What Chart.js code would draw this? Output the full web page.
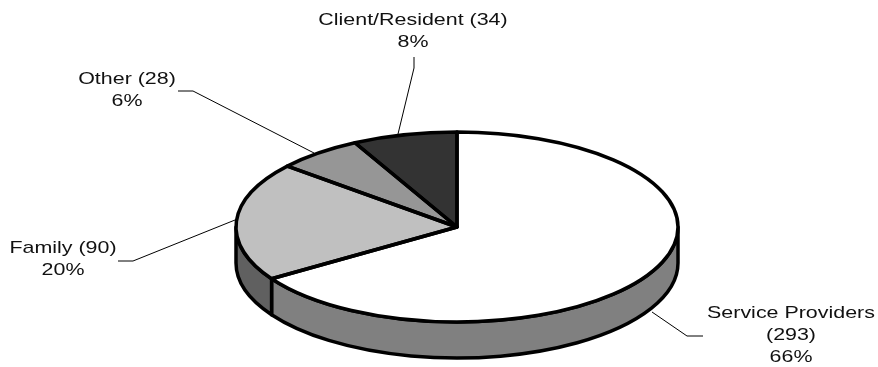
<!DOCTYPE html>
<html>
<head>
<meta charset="utf-8">
<style>html,body{margin:0;padding:0;background:#fff}canvas{display:block}</style>
<script src="https://cdn.jsdelivr.net/npm/chart.js@4/dist/chart.umd.min.js"></script>
</head>
<body>
<canvas id="c" width="878" height="367"></canvas>
<script>
const categories = ['Service Providers', 'Family', 'Other', 'Client/Resident'];
const counts = [293, 90, 28, 34];
const percentLabels = ['66%', '20%', '6%', '8%'];
const topColors = ['#ffffff', '#c0c0c0', '#969696', '#333333'];
const wallColors = ['#808080', '#606060', '#4b4b4b', '#1a1a1a'];

const labelLines = [
  ['Service Providers', '(' + counts[0] + ')', percentLabels[0]],
  [categories[1] + ' (' + counts[1] + ')', percentLabels[1]],
  [categories[2] + ' (' + counts[2] + ')', percentLabels[2]],
  [categories[3] + ' (' + counts[3] + ')', percentLabels[3]]
];
const labelAnchors = [[791, 313], [63, 248.5], [127, 79.5], [413, 20]];
const leaders = [
  [[703, 336], [687, 336], [652, 312]],
  [[118, 261], [133, 261], [235, 220]],
  [[178, 91], [193, 91], [314, 153]],
  [[414, 57], [414, 68], [398, 134]]
];
const pie = {cx: 457, cy: 227, rx: 221, ry: 95, depth: 36};
const LINE_H = 22.3;
const TEXT_STRETCH = 1.26;
const OUTLINE = 3.5;

const pie3d = {
  id: 'pie3d',
  beforeDatasetsDraw(chart) {
    const ctx = chart.ctx, arcs = chart.getDatasetMeta(0).data;
    // side wall: the visible lower half of each slice's rim
    arcs.forEach((arc, i) => {
      const p = arc.getProps(['startAngle', 'endAngle']);
      const a = Math.max(p.startAngle, 0), b = Math.min(p.endAngle, Math.PI);
      if (b <= a) return;
      ctx.beginPath();
      ctx.ellipse(pie.cx, pie.cy, pie.rx, pie.ry, 0, a, b);
      ctx.ellipse(pie.cx, pie.cy + pie.depth, pie.rx, pie.ry, 0, b, a, true);
      ctx.closePath();
      ctx.fillStyle = wallColors[i];
      ctx.fill();
      ctx.lineWidth = OUTLINE;
      ctx.lineJoin = 'round';
      ctx.strokeStyle = '#000';
      ctx.stroke();
    });
    const p0 = arcs[0].getProps(['x', 'y', 'outerRadius']);
    ctx.save();
    ctx.translate(pie.cx, pie.cy);
    ctx.scale(pie.rx / p0.outerRadius, pie.ry / p0.outerRadius);
    ctx.translate(-p0.x, -p0.y);
  },
  afterDatasetsDraw(chart) {
    const ctx = chart.ctx, arcs = chart.getDatasetMeta(0).data;
    ctx.restore();
    // uniform-width outlines of the top face
    arcs.forEach(arc => {
      const p = arc.getProps(['startAngle', 'endAngle']);
      ctx.beginPath();
      ctx.moveTo(pie.cx, pie.cy);
      ctx.ellipse(pie.cx, pie.cy, pie.rx, pie.ry, 0, p.startAngle, p.endAngle);
      ctx.closePath();
      ctx.lineWidth = OUTLINE;
      ctx.lineJoin = 'round';
      ctx.strokeStyle = '#000';
      ctx.stroke();
    });
    // leader lines
    ctx.lineWidth = 1;
    ctx.strokeStyle = '#000';
    leaders.forEach(pts => {
      ctx.beginPath();
      pts.forEach((q, i) => i ? ctx.lineTo(q[0], q[1]) : ctx.moveTo(q[0], q[1]));
      ctx.stroke();
    });
    // labels, stretched horizontally as in the reference
    ctx.fillStyle = '#111';
    ctx.font = '17px "Liberation Sans", Arial, sans-serif';
    ctx.textAlign = 'center';
    ctx.textBaseline = 'middle';
    labelLines.forEach((lines, i) => {
      lines.forEach((t, j) => {
        ctx.save();
        ctx.translate(labelAnchors[i][0], labelAnchors[i][1] + j * LINE_H);
        ctx.scale(TEXT_STRETCH, 1);
        ctx.fillText(t, 0, 0);
        ctx.restore();
      });
    });
  }
};

new Chart(document.getElementById('c'), {
  type: 'pie',
  data: {
    labels: categories,
    datasets: [{data: counts, backgroundColor: topColors, borderWidth: 0, clip: false}]
  },
  options: {
    responsive: false,
    animation: false,
    layout: {padding: 0},
    plugins: {legend: {display: false}, tooltip: {enabled: false}, title: {display: false}}
  },
  plugins: [pie3d]
});
</script>
</body>
</html>
